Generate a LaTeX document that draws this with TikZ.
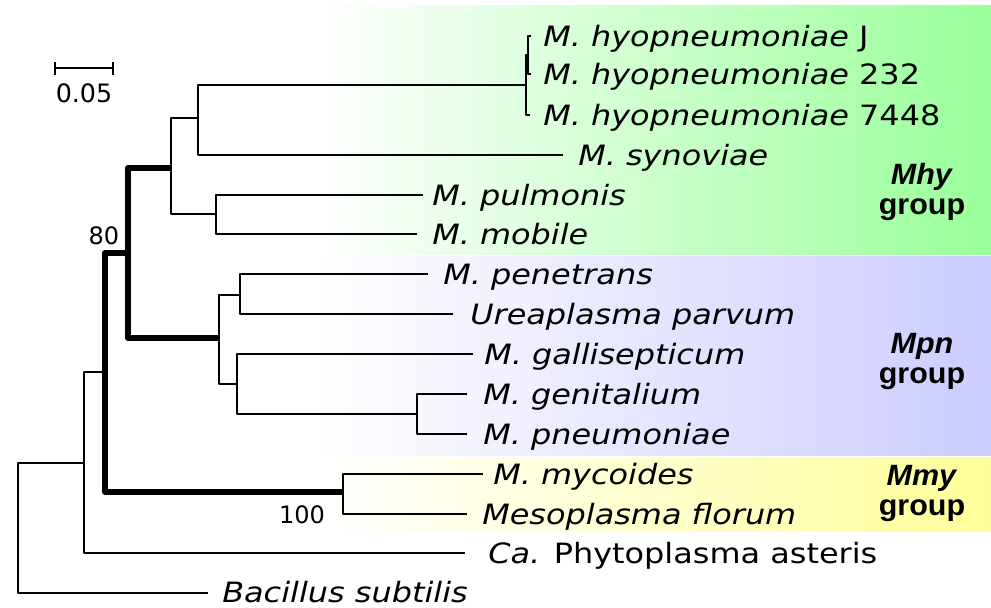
\documentclass[tikz,border=0pt]{standalone}
\usepackage{fontspec}
\setmainfont{DejaVu Sans}
\newfontfamily\leaffont[FakeStretch=1.14]{DejaVu Sans}
\newfontfamily\grpfont[FakeStretch=1.04]{Liberation Sans}
\usepackage{tikz}
\usetikzlibrary{positioning}
\definecolor{mhygreen}{RGB}{153,255,153}
\definecolor{mpnblue}{RGB}{204,204,255}
\definecolor{mmyyellow}{RGB}{255,255,153}

\begin{document}
\begin{tikzpicture}[
  x=0.75pt, y=-0.75pt,
  branch/.style={line width=1.1pt, line join=round},
  boot/.style={line width=4.5pt, line join=round},
  leaf/.style={anchor=base west, inner sep=0pt, yshift=-7.5pt, font=\leaffont\fontsize{21}{25}\selectfont},
  support/.style={inner sep=0pt, font=\fontsize{18}{21}\selectfont},
  grp/.style={align=center, inner sep=0pt, font=\grpfont\bfseries\fontsize{22}{22.5}\selectfont}
]
\useasboundingbox (0,0) rectangle (991,607);
\shade[left color=white, right color=mhygreen] (317,5) rectangle (991,254);
\shade[left color=white, right color=mpnblue] (317,256) rectangle (991,455);
\shade[left color=white, right color=mmyyellow] (317,457) rectangle (991,531);

\coordinate (root) at (18,528);
\coordinate (n1)   at (84,463);
\coordinate (n2)   at (105,372);
\coordinate (n3)   at (128,253);
\coordinate (mhy)  at (171,168);
\coordinate (hys)  at (198,118);
\coordinate (hyo)  at (526,85);
\coordinate (hyo2) at (528,55);
\coordinate (pm)   at (216,214);
\coordinate (mpn)  at (219,338);
\coordinate (pu)   at (240,295);
\coordinate (gg)   at (237,384);
\coordinate (gp)   at (417,414);
\coordinate (mmy)  at (343,492);

\coordinate (tJ)    at (531,36);
\coordinate (t232)  at (531,74);
\coordinate (t7448) at (530,115);
\coordinate (tsyn)  at (563,155);
\coordinate (tpul)  at (423,195);
\coordinate (tmob)  at (417,234);
\coordinate (tpen)  at (428,274);
\coordinate (ture)  at (453,314);
\coordinate (tgal)  at (473,354);
\coordinate (tgen)  at (467,394);
\coordinate (tpne)  at (467,434);
\coordinate (tmyc)  at (483,474);
\coordinate (tmes)  at (467,514);
\coordinate (tphy)  at (465,553);
\coordinate (tbac)  at (208,593);

\draw[branch] (root) |- (n1);
\draw[branch] (root) |- (tbac);
\draw[branch] (n1) |- (n2);
\draw[branch] (n1) |- (tphy);
\draw[boot] (n2) |- (n3);
\draw[boot] (n2) |- (mmy);
\draw[boot] (n3) |- (mhy);
\draw[boot] (n3) |- (mpn);
\draw[branch] (mhy) |- (hys);
\draw[branch] (mhy) |- (pm);
\draw[branch] (hys) |- (hyo);
\draw[branch] (hys) |- (tsyn);
\draw[branch] (hyo) |- (hyo2);
\draw[branch] (hyo) |- (t7448);
\draw[branch] (hyo2) |- (tJ);
\draw[branch] (hyo2) |- (t232);
\draw[branch] (pm) |- (tpul);
\draw[branch] (pm) |- (tmob);
\draw[branch] (mpn) |- (pu);
\draw[branch] (mpn) |- (gg);
\draw[branch] (pu) |- (tpen);
\draw[branch] (pu) |- (ture);
\draw[branch] (gg) |- (tgal);
\draw[branch] (gg) |- (gp);
\draw[branch] (gp) |- (tgen);
\draw[branch] (gp) |- (tpne);
\draw[branch] (mmy) |- (tmyc);
\draw[branch] (mmy) |- (tmes);

\node[leaf] (lJ)    at (543,36)  {\textit{M. hyopneumoniae} J};
\node[leaf] (l232)  at (543,74)  {\textit{M. hyopneumoniae} 232};
\node[leaf] (l7448) at (543,115) {\textit{M. hyopneumoniae} 7448};
\node[leaf] (lsyn)  at (578,155) {\textit{M. synoviae}};
\node[leaf] (lpul)  at (432,195) {\textit{M. pulmonis}};
\node[leaf] (lmob)  at (432,234) {\textit{M. mobile}};
\node[leaf] (lpen)  at (443,274) {\textit{M. penetrans}};
\node[leaf] (lure)  at (470,314) {\textit{Ureaplasma parvum}};
\node[leaf] (lgal)  at (484,354) {\textit{M. gallisepticum}};
\node[leaf] (lgen)  at (483,394) {\textit{M. genitalium}};
\node[leaf] (lpne)  at (483,434) {\textit{M. pneumoniae}};
\node[leaf] (lmyc)  at (493,474) {\textit{M. mycoides}};
\node[leaf] (lmes)  at (482,514) {\textit{Mesoplasma florum}};
\node[leaf] (lphy)  at (488,553) {\textit{Ca.} Phytoplasma asteris};
\node[leaf] (lbac)  at (222,592) {\textit{Bacillus subtilis}};

\node[support] (s80)  at (104,236) {80};
\node[support] (s100) at (302,515) {100};

\node[grp] (gmhy) at (922,192) {\textit{Mhy}\\group};
\node[grp] (gmpn) at (922,362) {\textit{Mpn}\\group};
\node[grp] (gmmy) at (922,494) {\textit{Mmy}\\group};

\coordinate (sbl) at (55,68);
\coordinate (sbr) at (113,68);
\draw[branch] (sbl) -- (sbr);
\draw[branch] (sbl) ++(0,-6) -- ++(0,13);
\draw[branch] (sbr) ++(0,-6) -- ++(0,13);
\node[inner sep=0pt, font=\fontsize{19}{22}\selectfont] (sblab) at (84,93) {0.05};
\end{tikzpicture}
\end{document}
